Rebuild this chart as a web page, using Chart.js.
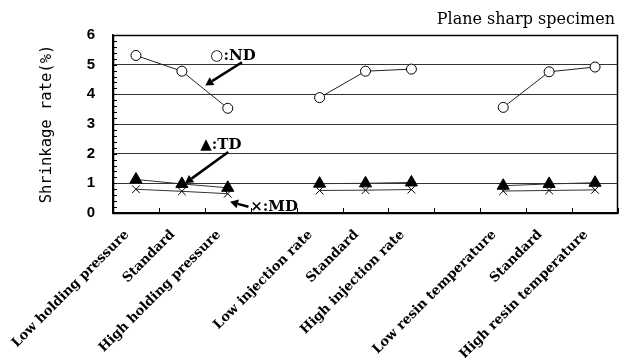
<!DOCTYPE html>
<html><head><meta charset="utf-8">
<script src="https://cdn.jsdelivr.net/npm/chart.js@4/dist/chart.umd.min.js"></script>
<style>html,body{margin:0;padding:0;background:#fff;overflow:hidden}#w{width:620px;height:358px;position:relative}</style>
</head><body><div id="w"><canvas id="c"></canvas></div>
<script>
const categories = ['Low holding pressure','Standard','High holding pressure','','Low injection rate','Standard','High injection rate','','Low resin temperature','Standard','High resin temperature'];
const ndValues = [5.31,4.78,3.53,null,3.89,4.78,4.85,null,3.56,4.76,4.92];
const tdValues = [1.13,0.98,0.85,null,0.99,1.00,1.03,null,0.92,0.98,1.02];
const mdValues = [0.80,0.73,0.65,null,0.76,0.77,0.79,null,0.74,0.76,0.78];
const yTicks = [0,1,2,3,4,5,6];
const titleText = 'Plane sharp specimen';
const yTitle = 'Shrinkage rate(%)';
const noteTexts = ['○:ND','▲:TD','×:MD'];

// annotation anchors in data space (category index, value)
const noteLayout = [
  {tx:1.62, ty:5.30, fx:2.31, fy:5.08, ax:1.51, ay:4.30},
  {tx:1.40, ty:2.28, fx:2.01, fy:2.06, ax:1.07, ay:1.00},
  {tx:2.49, ty:0.20, fx:2.45, fy:0.21, ax:2.05, ay:0.38}
];

const deco = {
  id:'deco',
  beforeDatasetsDraw(chart){
    const {ctx, chartArea:a, scales:{x,y}} = chart;
    ctx.save();
    ctx.strokeStyle='#000'; ctx.lineWidth=1;
    for(let v=0; v<=6.0001; v+=0.2){
      const py=Math.round(y.getPixelForValue(v))+0.5;
      ctx.beginPath(); ctx.moveTo(a.left, py); ctx.lineTo(a.left+4, py); ctx.stroke();
    }
    for(let i=0;i<=categories.length;i++){
      const px=Math.round(x.getPixelForValue(i-0.5))+0.5;
      ctx.beginPath(); ctx.moveTo(px, a.bottom); ctx.lineTo(px, a.bottom-5); ctx.stroke();
    }
    ctx.lineWidth=1.5;
    ctx.strokeRect(a.left+0.5, a.top+0.5, a.right-a.left-1, a.bottom-a.top);
    ctx.fillStyle='#000';
    ctx.font='16px "DejaVu Serif"';
    ctx.textAlign='right'; ctx.textBaseline='middle';
    ctx.fillText(titleText, a.right-3, 20);
    ctx.restore();
  },
  afterDatasetsDraw(chart){
    const {ctx, scales:{x,y}} = chart;
    ctx.save();
    ctx.fillStyle='#000'; ctx.strokeStyle='#000';
    noteLayout.forEach((n,i)=>{
      const fx=x.getPixelForValue(n.fx), fy=y.getPixelForValue(n.fy);
      const ax=x.getPixelForValue(n.ax), ay=y.getPixelForValue(n.ay);
      const ang=Math.atan2(ay-fy, ax-fx);
      const hl=8, hw=4.5;
      const bx=ax-hl*Math.cos(ang), by=ay-hl*Math.sin(ang);
      ctx.lineWidth=2.5;
      ctx.beginPath(); ctx.moveTo(fx,fy); ctx.lineTo(bx,by); ctx.stroke();
      ctx.beginPath();
      ctx.moveTo(ax,ay);
      ctx.lineTo(bx+hw*Math.sin(ang), by-hw*Math.cos(ang));
      ctx.lineTo(bx-hw*Math.sin(ang), by+hw*Math.cos(ang));
      ctx.closePath(); ctx.fill();
      ctx.font='bold 15px "DejaVu Serif"';
      ctx.textAlign='left'; ctx.textBaseline='middle';
      ctx.fillText(noteTexts[i], x.getPixelForValue(n.tx), y.getPixelForValue(n.ty));
    });
    ctx.restore();
  }
};

new Chart(document.getElementById('c'), {
  type:'line',
  data:{
    labels:categories,
    datasets:[
      {label:'ND', data:ndValues, borderColor:'#222', borderWidth:1, pointStyle:'circle', pointRadius:5, pointBackgroundColor:'#fff', pointBorderColor:'#000', pointBorderWidth:1, tension:0},
      {label:'TD', data:tdValues, borderColor:'#333', borderWidth:1, pointStyle:'triangle', pointRadius:7, pointBackgroundColor:'#000', pointBorderColor:'#000', pointBorderWidth:1, tension:0, order:0},
      {label:'MD', data:mdValues, borderColor:'#333', borderWidth:1, pointStyle:'crossRot', pointRadius:5.5, pointBackgroundColor:'#000', pointBorderColor:'#000', pointBorderWidth:1, tension:0, order:1}
    ]
  },
  options:{
    responsive:true, maintainAspectRatio:false, animation:false,
    layout:{autoPadding:false, padding:{left:0,right:2,top:35,bottom:0}},
    plugins:{ legend:{display:false}, tooltip:{enabled:false}, title:{display:false} },
    scales:{
      x:{
        offset:true,
        grid:{display:false},
        border:{display:true,color:'#000',width:1.5},
        ticks:{autoSkip:false, minRotation:45, maxRotation:45, color:'#000', padding:6, labelOffset:-9,
          font:{family:'"DejaVu Serif"', size:13.2, weight:'bold'}},
        afterFit(s){ s.height=145; s.paddingLeft=0; s.paddingRight=0; }
      },
      y:{
        min:0, max:6,
        afterBuildTicks(s){ s.ticks = yTicks.map(v=>({value:v})); },
        grid:{color:'#333', lineWidth:1, drawTicks:false},
        border:{display:true,color:'#000',width:1.5},
        ticks:{color:'#000', padding:18, font:{family:'"Liberation Sans"', size:15, weight:'bold'}},
        title:{display:true, text:yTitle, color:'#000', padding:{top:38,bottom:0},
          font:{family:'"DejaVu Sans Mono"', size:15.5}},
        afterFit(s){ s.width=113; s.paddingTop=0; s.paddingBottom=0; }
      }
    }
  },
  plugins:[deco]
});
</script>
</body></html>
